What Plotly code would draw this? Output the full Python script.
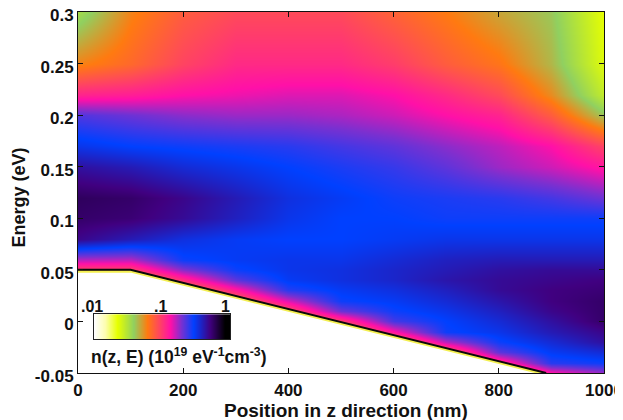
import plotly.graph_objects as go

# position (nm) and energy (eV) grid of the map
position_nm = [0, 100, 200, 300, 400, 500, 600, 700, 800, 900, 1000]
energy_ev = [-0.05, -0.04, -0.03, -0.02, -0.01, 0.0, 0.01, 0.02, 0.03, 0.04, 0.05,
             0.06, 0.08, 0.10, 0.12, 0.15, 0.17, 0.20, 0.22, 0.25, 0.30]

# n(z, E): fraction of the log scale between 0.01 (0) and 1 (1); one row per energy
row_m050 = [0, 0, 0, 0, 0, 0, .04, .19, .34, .55, .62]
row_m040 = [0, 0, 0, 0, 0, .01, .16, .31, .50, .70, .72]
row_m030 = [0, 0, 0, 0, 0, .13, .28, .43, .66, .74, .77]
row_m020 = [0, 0, 0, 0, .10, .25, .40, .60, .72, .77, .82]
row_m010 = [0, 0, 0, .06, .22, .37, .55, .72, .75, .80, .84]
row_000 = [0, 0, .03, .18, .34, .49, .68, .73, .77, .82, .87]
row_010 = [0, 0, .15, .30, .46, .65, .72, .75, .79, .84, .87]
row_020 = [.12, .12, .27, .42, .58, .72, .74, .77, .81, .85, .87]
row_030 = [.24, .24, .39, .54, .70, .74, .76, .79, .83, .85, .86]
row_040 = [.36, .36, .51, .66, .74, .76, .78, .81, .83, .84, .85]
row_050 = [.48, .48, .63, .72, .75, .76, .78, .80, .82, .83, .83]
row_060 = [.60, .60, .72, .74, .75, .75, .77, .79, .80, .80, .80]
row_080 = [.84, .80, .76, .74, .73, .73, .74, .75, .75, .75, .75]
row_100 = [.87, .86, .83, .79, .75, .73, .73, .72, .72, .72, .72]
row_120 = [.88, .87, .84, .80, .76, .74, .72, .71, .70, .68, .65]
row_150 = [.82, .80, .77, .75, .73, .71, .69, .66, .62, .59, .55]
row_170 = [.75, .73, .72, .71, .70, .68, .66, .63, .60, .56, .48]
row_200 = [.67, .65, .63, .62, .62, .61, .59, .56, .53, .44, .30]
row_220 = [.53, .54, .56, .57, .58, .58, .56, .52, .47, .37, .22]
row_250 = [.38, .42, .48, .52, .52, .52, .49, .44, .40, .32, .18]
row_300 = [.26, .38, .44, .47, .47, .47, .43, .39, .34, .30, .17]
n_map = [row_m050, row_m040, row_m030, row_m020, row_m010, row_000, row_010, row_020,
         row_030, row_040, row_050, row_060, row_080, row_100, row_120, row_150,
         row_170, row_200, row_220, row_250, row_300]

# conduction band edge
band_z = [0, 100, 890]
band_e = [0.05, 0.05, -0.05]
band_tail_e = [0.0485, 0.0485, -0.0515]

# legend strip
legend_x = [0.0, 0.25, 0.5, 0.75, 1.0]
legend_y = [0, 1]
legend_ticks = [".01", ".1", "1"]

x_ticks = [0, 200, 400, 600, 800, 1000]
y_ticks = [-0.05, 0, 0.05, 0.1, 0.15, 0.2, 0.25, 0.3]
y_labels = ["-0.05", "0", "0.05", "0.1", "0.15", "0.2", "0.25", "0.3"]

colorscale = [[0, "#ffffff"], [0.08, "#fdfdb0"], [0.17, "#e6ff00"], [0.29, "#90d060"],
              [0.39, "#ff7a10"], [0.46, "#ff5050"], [0.56, "#ff10a8"], [0.64, "#7a30d0"],
              [0.73, "#0040ff"], [0.85, "#400080"], [0.96, "#000000"], [1, "#000000"]]

FONT = "Liberation Sans"
DARK = "#111111"
AXFONT = dict(size=17, family=FONT, weight="bold")

fig = go.Figure()
fig.add_trace(go.Heatmap(x=position_nm, y=energy_ev, z=n_map, zmin=0, zmax=1,
                         zsmooth="best", colorscale=colorscale, showscale=False))
# white region under the band edge
fig.add_trace(go.Scatter(x=band_z + [band_z[-1], band_z[0]],
                         y=band_tail_e + [-0.05, -0.05],
                         fill="toself", fillcolor="white", mode="none", showlegend=False))
fig.add_trace(go.Scatter(x=band_z, y=band_tail_e, mode="lines",
                         line=dict(color="#f4f050", width=2.5), showlegend=False))
fig.add_trace(go.Scatter(x=band_z, y=band_e, mode="lines",
                         line=dict(color="#0a0a0a", width=2), showlegend=False))
fig.add_trace(go.Heatmap(x=legend_x, y=legend_y, z=[legend_x, legend_x], xaxis="x2", yaxis="y2",
                         zmin=0, zmax=1, zsmooth="best", colorscale=colorscale, showscale=False))

fig.update_layout(
    width=615, height=412, margin=dict(l=70, r=19, t=4, b=47, autoexpand=False),
    paper_bgcolor="white", plot_bgcolor="white",
    font=dict(family=FONT, size=14, color=DARK),
    xaxis=dict(range=[0, 1000], tickvals=x_ticks, ticks="inside", ticklen=5, tickcolor=DARK,
               mirror="allticks", showline=True, linecolor=DARK, linewidth=1, showgrid=False,
               zeroline=False, tickfont=AXFONT, automargin=False, ticklabelstandoff=2,
               ticklabeloverflow="allow"),
    yaxis=dict(range=[-0.05, 0.3], tickvals=y_ticks, ticktext=y_labels, ticks="inside", ticklen=5,
               tickcolor=DARK, mirror="allticks", showline=True, linecolor=DARK, linewidth=1,
               showgrid=False, zeroline=False, tickfont=AXFONT, automargin=False,
               ticklabeloverflow="allow", ticklabelshift=3),
    xaxis2=dict(domain=[0.0304, 0.289], anchor="y2", range=[0, 1], showticklabels=False,
                ticks="", showgrid=False, zeroline=False, showline=True, mirror=True,
                linecolor="#222222", linewidth=1),
    yaxis2=dict(domain=[0.094, 0.163], anchor="x2", range=[0, 1], showticklabels=False,
                ticks="", showgrid=False, zeroline=False, showline=True, mirror=True,
                linecolor="#222222", linewidth=1),
    annotations=[
        dict(x=v, y=1, xref="x2", yref="y2", text=f"<b>{t}</b>", showarrow=False,
             yanchor="bottom", xanchor=a, yshift=-3, xshift=s, font=dict(size=16, family=FONT))
        for v, t, a, s in zip([0.0, 0.5, 1.0], legend_ticks, ["center", "center", "right"], [-2, -2, 2])
    ] + [
        dict(x=0, y=0, xref="x2", yref="y2", xanchor="left", yanchor="top", yshift=-4, xshift=-5,
             showarrow=False, font=dict(size=17.5, family=FONT),
             text="<b>n(z, E) (10<sup>19</sup> eV<sup>-1</sup>cm<sup>-3</sup>)</b>"),
        dict(x=0.5, y=0, xref="paper", yref="paper", xanchor="center", yanchor="top", yshift=-25,
             xshift=5, showarrow=False, font=dict(size=19, family=FONT),
             text="<b>Position in z direction (nm)</b>"),
        dict(x=0, y=0.5, xref="paper", yref="paper", xanchor="center", yanchor="middle", xshift=-60,
             yshift=-5, textangle=-90, showarrow=False, font=dict(size=18, family=FONT),
             text="<b>Energy (eV)</b>"),
    ],
)
fig.write_html("out.html")
